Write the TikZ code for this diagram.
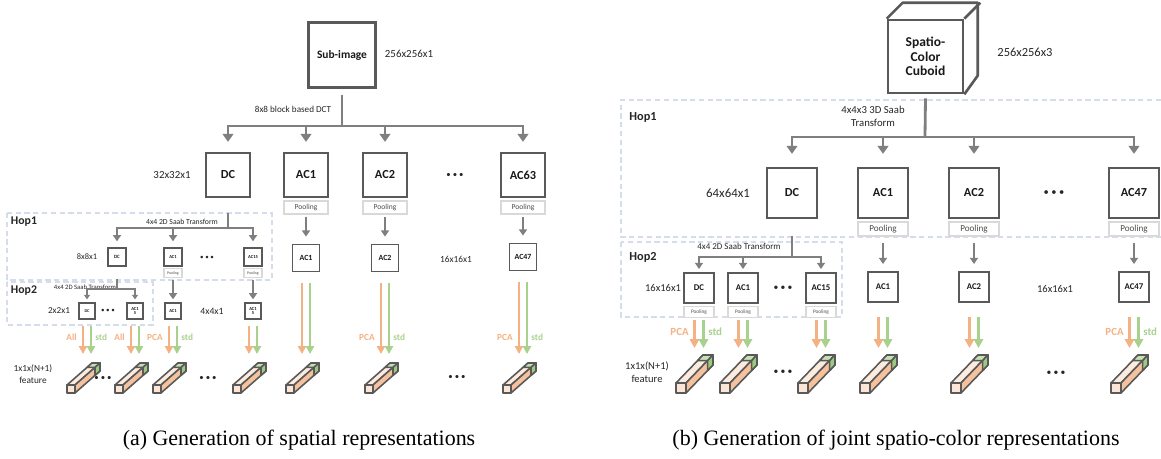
\documentclass[tikz,border=0pt]{standalone}
\usepackage{fontspec}
\setmainfont{Carlito}
\newfontfamily\capfont{Liberation Serif}
\usetikzlibrary{arrows.meta}

\definecolor{boxgray}{HTML}{595959}
\definecolor{arrgray}{HTML}{7F7F7F}
\definecolor{poolgray}{HTML}{D9D9D9}
\definecolor{hopblue}{HTML}{D5DCEB}
\definecolor{pcaorange}{HTML}{F4B183}
\definecolor{stdgreen}{HTML}{A9D18E}
\definecolor{barface}{HTML}{FBE5D6}
\definecolor{bartop}{HTML}{FCEBDF}
\definecolor{barside}{HTML}{F6C29D}
\definecolor{bartip}{HTML}{C5E0B4}
\definecolor{bartipside}{HTML}{9BCB7E}

\begin{document}
\begin{tikzpicture}[x=0.02cm, y=-0.02cm,
  box/.style={draw=boxgray, line width=1.1pt, fill=white, inner sep=0pt, align=center, text=black!90},
  pool/.style={draw=poolgray, line width=0.9pt, fill=white, inner sep=0pt, text=black!70, anchor=north},
  hop/.style={draw=hopblue, line width=0.6pt, dash pattern=on 3pt off 2pt},
  lbl/.style={inner sep=0pt, text=black!85, align=center},
  bigarrow/.style={draw=arrgray, line width=1.6pt, -{Triangle[length=4.5pt,width=6pt]}},
  arrow/.style={draw=arrgray, line width=1.2pt, -{Triangle[length=3.5pt,width=4.5pt]}},
  smallarrow/.style={draw=arrgray, line width=0.9pt, -{Triangle[length=2.6pt,width=3.4pt]}},
  tinyarrow/.style={draw=arrgray, line width=0.7pt, -{Triangle[length=2pt,width=2.6pt]}},
  pca/.style={draw=pcaorange, line width=1.6pt, -{Triangle[length=4.5pt,width=4.6pt]}},
  std/.style={pca, draw=stdgreen},
  pcalbl/.style={lbl, text=pcaorange, font=\fontsize{5.3}{6}\selectfont\bfseries},
  stdlbl/.style={lbl, text=stdgreen, font=\fontsize{5.3}{6}\selectfont\bfseries},
  dots/.style={lbl, font=\fontsize{5}{5}\selectfont},
  bar/.style={draw=boxgray, line width=0.9pt, line join=round}
]
  \useasboundingbox (0,0) rectangle (1161,459);

  % ---------------- (a) spatial ----------------
  \node[box, line width=1.3pt, minimum width=1.34cm, minimum height=1.3cm, font=\fontsize{6.5}{7}\selectfont\bfseries] (subimg) at (342,55) {Sub-image};
  \node[lbl, font=\fontsize{6.2}{7}\selectfont] (aSize0) at (409,54) {256x256x1};
  \coordinate (aSplit) at (342,126);
  \draw[bigarrow, -] ([yshift=-0.12cm]subimg.south) -- (aSplit);
  \node[lbl, font=\fontsize{5.2}{6}\selectfont] (aDct) at (293,109) {8x8 block based DCT};

  % top row
  \node[box, line width=1.3pt, minimum size=0.88cm, font=\fontsize{7}{8}\selectfont\bfseries] (aDC) at (228,175) {DC};
  \node[box, line width=1.3pt, minimum size=0.88cm, font=\fontsize{7}{8}\selectfont\bfseries] (aAC1) at (306,175) {AC1};
  \node[box, line width=1.3pt, minimum size=0.88cm, font=\fontsize{7}{8}\selectfont\bfseries] (aAC2) at (385,175) {AC2};
  \node[box, line width=1.3pt, minimum size=0.88cm, font=\fontsize{7}{8}\selectfont\bfseries] (aAC63) at (523,175) {AC63};
  \foreach \n in {aDC,aAC1,aAC2,aAC63}
    \draw[bigarrow, shorten >=0.2cm] (aSplit) -| (\n.north);
  \node[pool, minimum width=0.88cm, minimum height=0.26cm, font=\fontsize{4.3}{5}\selectfont] (aPl1) at ([yshift=-1.2pt]aAC1.south) {Pooling};
  \node[pool, minimum width=0.88cm, minimum height=0.26cm, font=\fontsize{4.3}{5}\selectfont] (aPl2) at ([yshift=-1.2pt]aAC2.south) {Pooling};
  \node[pool, minimum width=0.88cm, minimum height=0.26cm, font=\fontsize{4.3}{5}\selectfont] (aPl63) at ([yshift=-1.2pt]aAC63.south) {Pooling};
  \node[lbl, font=\fontsize{6.2}{7}\selectfont] (aSize1) at (172,175) {32x32x1};
  \node[dots] (aDots1) at (455,175) {• • •};

  % Hop1
  \draw[hop] (7,213) rectangle (272,280);
  \node[lbl, font=\fontsize{6.7}{7}\selectfont\bfseries] (aHop1) at (24,222) {Hop1};
  \node[lbl, font=\fontsize{4.4}{5}\selectfont] (aSaab1) at (182,222) {4x4 2D Saab Transform};
  \coordinate (aSplit1) at (228,228);
  \draw[arrow, -] ([yshift=-0.3cm]aDC.south) -- (aSplit1);
  \node[box, line width=0.8pt, minimum size=0.36cm, font=\fontsize{2.8}{3}\selectfont\bfseries] (aHopDC) at (117,257) {DC};
  \node[box, line width=0.8pt, minimum size=0.36cm, font=\fontsize{2.6}{3}\selectfont\bfseries] (aHopAC1) at (173,257) {AC1};
  \node[box, line width=0.8pt, minimum size=0.36cm, font=\fontsize{2.6}{3}\selectfont\bfseries] (aHopAC15) at (253,257) {AC15};
  \foreach \n in {aHopDC,aHopAC1,aHopAC15}
    \draw[arrow, shorten >=0.12cm] (aSplit1) -| (\n.north);
  \node[pool, line width=0.7pt, minimum width=0.36cm, minimum height=0.18cm, font=\fontsize{2.2}{2.5}\selectfont] (aHopPl1) at ([yshift=-0.8pt]aHopAC1.south) {Pooling};
  \node[pool, line width=0.7pt, minimum width=0.36cm, minimum height=0.18cm, font=\fontsize{2.2}{2.5}\selectfont] (aHopPl15) at ([yshift=-0.8pt]aHopAC15.south) {Pooling};
  \node[lbl, font=\fontsize{4.8}{5}\selectfont] (aSize2) at (87,257) {8x8x1};
  \node[dots, font=\fontsize{4}{5}\selectfont] (aDots2) at (207,258) {• • •};

  % Hop2
  \draw[hop] (7,282) rectangle (153,325);
  \node[lbl, font=\fontsize{6.7}{7}\selectfont\bfseries] (aHop2) at (24,291) {Hop2};
  \node[lbl, font=\fontsize{3.8}{4}\selectfont] (aSaab2) at (85,287) {4x4 2D Saab Transform};
  \coordinate (aSplit2) at (117,289);
  \draw[smallarrow, -] ([yshift=-0.24cm]aHopDC.south) -- (aSplit2);
  \node[box, line width=0.7pt, minimum size=0.32cm, font=\fontsize{2.4}{3}\selectfont\bfseries] (aHop2DC) at (87,311) {DC};
  \node[box, line width=0.7pt, minimum size=0.32cm, font=\fontsize{2.6}{2.8}\selectfont\bfseries] (aHop2AC15) at (135,311) {AC1\\5};
  \foreach \n in {aHop2DC,aHop2AC15}
    \draw[smallarrow, shorten >=0.06cm] (aSplit2) -| (\n.north);
  \node[lbl, font=\fontsize{5.2}{6}\selectfont] (aSize3) at (59,311) {2x2x1};
  \node[dots, font=\fontsize{4}{5}\selectfont] (aDots3) at (108,311) {• • •};

  % 4x4x1 level
  \node[box, line width=0.7pt, minimum size=0.32cm, font=\fontsize{2.6}{3}\selectfont\bfseries] (aLowAC1) at (173,311) {AC1};
  \node[box, line width=0.7pt, minimum size=0.32cm, font=\fontsize{2.6}{2.8}\selectfont\bfseries] (aLowAC15) at (253,311) {AC1\\5};
  \draw[arrow, shorten <=0.04cm, shorten >=0.06cm] (aHopPl1.south) -- (aLowAC1.north);
  \draw[arrow, shorten <=0.04cm, shorten >=0.06cm] (aHopPl15.south) -- (aLowAC15.north);
  \node[lbl, font=\fontsize{5.5}{6}\selectfont] (aSize4) at (212,311) {4x4x1};

  % 16x16x1 level
  \node[box, line width=1pt, minimum size=0.54cm, font=\fontsize{4.5}{5}\selectfont\bfseries] (aMidAC1) at (306,258) {AC1};
  \node[box, line width=1pt, minimum size=0.54cm, font=\fontsize{4.5}{5}\selectfont\bfseries] (aMidAC2) at (385,258) {AC2};
  \node[box, line width=1pt, minimum size=0.54cm, font=\fontsize{4.5}{5}\selectfont\bfseries] (aMidAC47) at (523,257) {AC47};
  \draw[arrow, line width=1.4pt, shorten <=0.04cm, shorten >=0.14cm] (aPl1.south) -- (aMidAC1.north);
  \draw[arrow, line width=1.4pt, shorten <=0.04cm, shorten >=0.14cm] (aPl2.south) -- (aMidAC2.north);
  \draw[arrow, line width=1.4pt, shorten <=0.04cm, shorten >=0.14cm] (aPl63.south) -- (aMidAC47.north);
  \node[lbl, font=\fontsize{5.3}{6}\selectfont] (aSize5) at (456,259) {16x16x1};

  % features
  \coordinate (aF1) at (87,354);
  \coordinate (aF2) at (135,354);
  \coordinate (aF3) at (173,354);
  \coordinate (aF4) at (253,354);
  \coordinate (aF5) at (306,354);
  \coordinate (aF6) at (385,354);
  \coordinate (aF7) at (523,354);
  \foreach \b/\f/\g in {aHop2DC/aF1/0.12cm, aHop2AC15/aF2/0.12cm, aLowAC1/aF3/0.12cm, aLowAC15/aF4/0.12cm, aMidAC1/aF5/0.22cm, aMidAC2/aF6/0.22cm, aMidAC47/aF7/0.22cm}{
    \draw[pca] ([xshift=-0.08cm,yshift=-\g]\b.south) -- ([xshift=-0.08cm]\f);
    \draw[std] ([xshift=0.08cm,yshift=-\g]\b.south) -- ([xshift=0.08cm]\f);
  }
  \node[pcalbl, anchor=east] (aAll1) at ([xshift=-0.2cm,yshift=0.34cm]aF1) {All};
  \node[stdlbl, anchor=west] (aStd1) at ([xshift=0.16cm,yshift=0.34cm]aF1) {std};
  \node[pcalbl, anchor=east] (aAll2) at ([xshift=-0.2cm,yshift=0.34cm]aF2) {All};
  \node[pcalbl, anchor=east] (aPca3) at ([xshift=-0.2cm,yshift=0.34cm]aF3) {PCA};
  \node[stdlbl, anchor=west] (aStd3) at ([xshift=0.16cm,yshift=0.34cm]aF3) {std};
  \node[pcalbl, anchor=east] (aPca6) at ([xshift=-0.2cm,yshift=0.34cm]aF6) {PCA};
  \node[stdlbl, anchor=west] (aStd6) at ([xshift=0.16cm,yshift=0.34cm]aF6) {std};
  \node[pcalbl, anchor=east] (aPca7) at ([xshift=-0.2cm,yshift=0.34cm]aF7) {PCA};
  \node[stdlbl, anchor=west] (aStd7) at ([xshift=0.16cm,yshift=0.34cm]aF7) {std};

  \foreach \f in {aF1,aF2,aF3,aF4,aF5,aF6,aF7}{
    \begin{scope}[shift={(\f)}, xshift=-0.4cm, yshift=-0.78cm]
      \filldraw[bar, fill=barface] (0,0) rectangle (8,-8);
      \filldraw[bar, fill=bartop] (0,-8) -- (25,-30) -- (33,-30) -- (8,-8) -- cycle;
      \filldraw[bar, fill=barside] (8,-8) -- (33,-30) -- (33,-22) -- (8,0) -- cycle;
      \filldraw[bar, fill=bartip] (20,-25.6) -- (25,-30) -- (33,-30) -- (28,-25.6) -- cycle;
      \filldraw[bar, fill=bartipside] (28,-25.6) -- (33,-30) -- (33,-22) -- (28,-17.6) -- cycle;
    \end{scope}
  }
  \node[lbl, font=\fontsize{5.3}{6.6}\selectfont] (aFeat) at (33,374) {1x1x(N+1)\\feature};
  \node[dots] (aDots4) at (103,378) {• • •};
  \node[dots] (aDots5) at (208,378) {• • •};
  \node[dots] (aDots6) at (457,377) {• • •};

  % ---------------- (b) spatio-color ----------------
  \node[box, line width=1.5pt, minimum width=1.5cm, minimum height=1.46cm, font=\fontsize{7.7}{8.4}\selectfont\bfseries] (cuboid) at (925.5,56.5) {Spatio-\\Color\\Cuboid};
  \draw[boxgray, line width=1.5pt, line join=round] (cuboid.north west) -- ++(16,-16) -- ++(75,0) -- ++(0,73) -- (cuboid.south east);
  \draw[boxgray, line width=1.5pt] (cuboid.north east) -- ++(16,-16);
  \node[lbl, font=\fontsize{7.1}{8}\selectfont] (bSize0) at (1025,52) {256x256x3};

  % Hop1
  \draw[hop] (1161,100) -- (621,100) -- (621,237) -- (1161,237);
  \node[lbl, font=\fontsize{7}{8}\selectfont\bfseries] (bHop1) at (643,117) {Hop1};
  \node[lbl, font=\fontsize{6.1}{7.5}\selectfont] (bSaab1) at (873,116) {4x4x3 3D Saab\\Transform};
  \coordinate (bSplit) at (925,137);
  \draw[bigarrow, -] ([yshift=-0.08cm]cuboid.south) -- (bSplit);
  \node[box, line width=1.3pt, minimum size=1cm, font=\fontsize{7}{8}\selectfont\bfseries] (bDC) at (792,193) {DC};
  \node[box, line width=1.3pt, minimum size=1cm, font=\fontsize{7}{8}\selectfont\bfseries] (bAC1) at (883,193) {AC1};
  \node[box, line width=1.3pt, minimum size=1cm, font=\fontsize{7}{8}\selectfont\bfseries] (bAC2) at (974,193) {AC2};
  \node[box, line width=1.3pt, minimum size=1cm, font=\fontsize{7}{8}\selectfont\bfseries] (bAC47) at (1134,193) {AC47};
  \foreach \n in {bDC,bAC1,bAC2,bAC47}
    \draw[bigarrow, shorten >=0.26cm] (bSplit) -| (\n.north);
  \node[pool, minimum width=1cm, minimum height=0.28cm, font=\fontsize{5.2}{6}\selectfont] (bPl1) at ([yshift=-1.2pt]bAC1.south) {Pooling};
  \node[pool, minimum width=1cm, minimum height=0.28cm, font=\fontsize{5.2}{6}\selectfont] (bPl2) at ([yshift=-1.2pt]bAC2.south) {Pooling};
  \node[pool, minimum width=1cm, minimum height=0.28cm, font=\fontsize{5.2}{6}\selectfont] (bPl47) at ([yshift=-1.2pt]bAC47.south) {Pooling};
  \node[lbl, font=\fontsize{7.3}{8}\selectfont] (bSize1) at (728,193) {64x64x1};
  \node[dots, font=\fontsize{6}{7}\selectfont] (bDots1) at (1054,193) {• • •};

  % Hop2
  \draw[hop] (621,242) rectangle (842,317);
  \node[lbl, font=\fontsize{7}{8}\selectfont\bfseries] (bHop2) at (643,257) {Hop2};
  \node[lbl, font=\fontsize{5.1}{6}\selectfont] (bSaab2) at (739,246) {4x4 2D Saab Transform};
  \coordinate (bSplit2) at (792,257);
  \draw[arrow, line width=1.4pt, -] ([yshift=-0.34cm]bDC.south) -- (bSplit2);
  \node[box, minimum size=0.6cm, font=\fontsize{5}{6}\selectfont\bfseries] (bHopDC) at (699,288) {DC};
  \node[box, minimum size=0.6cm, font=\fontsize{5}{6}\selectfont\bfseries] (bHopAC1) at (743,288) {AC1};
  \node[box, minimum size=0.6cm, font=\fontsize{5}{6}\selectfont\bfseries] (bHopAC15) at (821,288) {AC15};
  \foreach \n in {bHopDC,bHopAC1,bHopAC15}
    \draw[arrow, line width=1.4pt, shorten >=0.06cm] (bSplit2) -| (\n.north);
  \node[pool, minimum width=0.6cm, minimum height=0.22cm, font=\fontsize{3}{3.5}\selectfont] (bHopPlDC) at ([yshift=-1.1pt]bHopDC.south) {Pooling};
  \node[pool, minimum width=0.6cm, minimum height=0.22cm, font=\fontsize{3}{3.5}\selectfont] (bHopPl1) at ([yshift=-1.1pt]bHopAC1.south) {Pooling};
  \node[pool, minimum width=0.6cm, minimum height=0.22cm, font=\fontsize{3}{3.5}\selectfont] (bHopPl15) at ([yshift=-1.1pt]bHopAC15.south) {Pooling};
  \node[lbl, font=\fontsize{6}{7}\selectfont] (bSize2) at (663,288) {16x16x1};
  \node[dots, font=\fontsize{5.5}{7}\selectfont] (bDots2) at (783,288) {• • •};

  % 16x16x1 level
  \node[box, minimum size=0.6cm, font=\fontsize{5}{6}\selectfont\bfseries] (bMidAC1) at (883,287) {AC1};
  \node[box, minimum size=0.6cm, font=\fontsize{5}{6}\selectfont\bfseries] (bMidAC2) at (974,287) {AC2};
  \node[box, minimum size=0.6cm, font=\fontsize{5}{6}\selectfont\bfseries] (bMidAC47) at (1134,287) {AC47};
  \draw[arrow, line width=1.5pt, shorten <=0.12cm, shorten >=0.14cm] (bPl1.south) -- (bMidAC1.north);
  \draw[arrow, line width=1.5pt, shorten <=0.12cm, shorten >=0.14cm] (bPl2.south) -- (bMidAC2.north);
  \draw[arrow, line width=1.5pt, shorten <=0.12cm, shorten >=0.14cm] (bPl47.south) -- (bMidAC47.north);
  \node[lbl, font=\fontsize{6}{7}\selectfont] (bSize3) at (1055,289) {16x16x1};

  % features
  \coordinate (bF1) at (699,348);
  \coordinate (bF2) at (743,348);
  \coordinate (bF3) at (821,348);
  \coordinate (bF4) at (883,348);
  \coordinate (bF5) at (974,348);
  \coordinate (bF6) at (1134,348);
  \foreach \b/\f/\g in {bHopPlDC/bF1/0.04cm, bHopPl1/bF2/0.04cm, bHopPl15/bF3/0.04cm, bMidAC1/bF4/0.28cm, bMidAC2/bF5/0.28cm, bMidAC47/bF6/0.28cm}{
    \draw[pca, line width=1.8pt, -{Triangle[length=5pt,width=5.2pt]}] ([xshift=-0.09cm,yshift=-\g]\b.south) -- ([xshift=-0.09cm]\f);
    \draw[std, line width=1.8pt, -{Triangle[length=5pt,width=5.2pt]}] ([xshift=0.09cm,yshift=-\g]\b.south) -- ([xshift=0.09cm]\f);
  }
  \node[pcalbl, font=\fontsize{6.2}{7}\selectfont\bfseries, anchor=east] (bPca1) at ([xshift=-0.2cm,yshift=0.32cm]bF1) {PCA};
  \node[stdlbl, font=\fontsize{6.2}{7}\selectfont\bfseries, anchor=west] (bStd1) at ([xshift=0.18cm,yshift=0.32cm]bF1) {std};
  \node[pcalbl, font=\fontsize{6.2}{7}\selectfont\bfseries, anchor=east] (bPca6) at ([xshift=-0.2cm,yshift=0.32cm]bF6) {PCA};
  \node[stdlbl, font=\fontsize{6.2}{7}\selectfont\bfseries, anchor=west] (bStd6) at ([xshift=0.18cm,yshift=0.32cm]bF6) {std};

  \foreach \f in {bF1,bF2,bF3,bF4,bF5,bF6}{
    \begin{scope}[shift={(\f)}, xshift=-0.46cm, yshift=-0.9cm]
      \filldraw[bar, fill=barface] (0,0) rectangle (10,-10);
      \filldraw[bar, fill=bartop] (0,-10) -- (27,-38) -- (37,-38) -- (10,-10) -- cycle;
      \filldraw[bar, fill=barside] (10,-10) -- (37,-38) -- (37,-28) -- (10,0) -- cycle;
      \filldraw[bar, fill=bartip] (21.6,-32.4) -- (27,-38) -- (37,-38) -- (31.6,-32.4) -- cycle;
      \filldraw[bar, fill=bartipside] (31.6,-32.4) -- (37,-38) -- (37,-28) -- (31.6,-22.4) -- cycle;
    \end{scope}
  }
  \node[lbl, font=\fontsize{6}{7.4}\selectfont] (bFeat) at (647,372) {1x1x(N+1)\\feature};
  \node[dots, font=\fontsize{5.5}{7}\selectfont] (bDots3) at (783,372) {• • •};
  \node[dots, font=\fontsize{5.5}{7}\selectfont] (bDots4) at (1056,373) {• • •};

  % captions
  \node[lbl, text=black, font={\capfont\fontsize{12.5}{14}\selectfont}] (capA) at (299,440) {(a) Generation of spatial representations};
  \node[lbl, text=black, font={\capfont\fontsize{12.5}{14}\selectfont}] (capB) at (896,440) {(b) Generation of joint spatio-color representations};
\end{tikzpicture}
\end{document}
